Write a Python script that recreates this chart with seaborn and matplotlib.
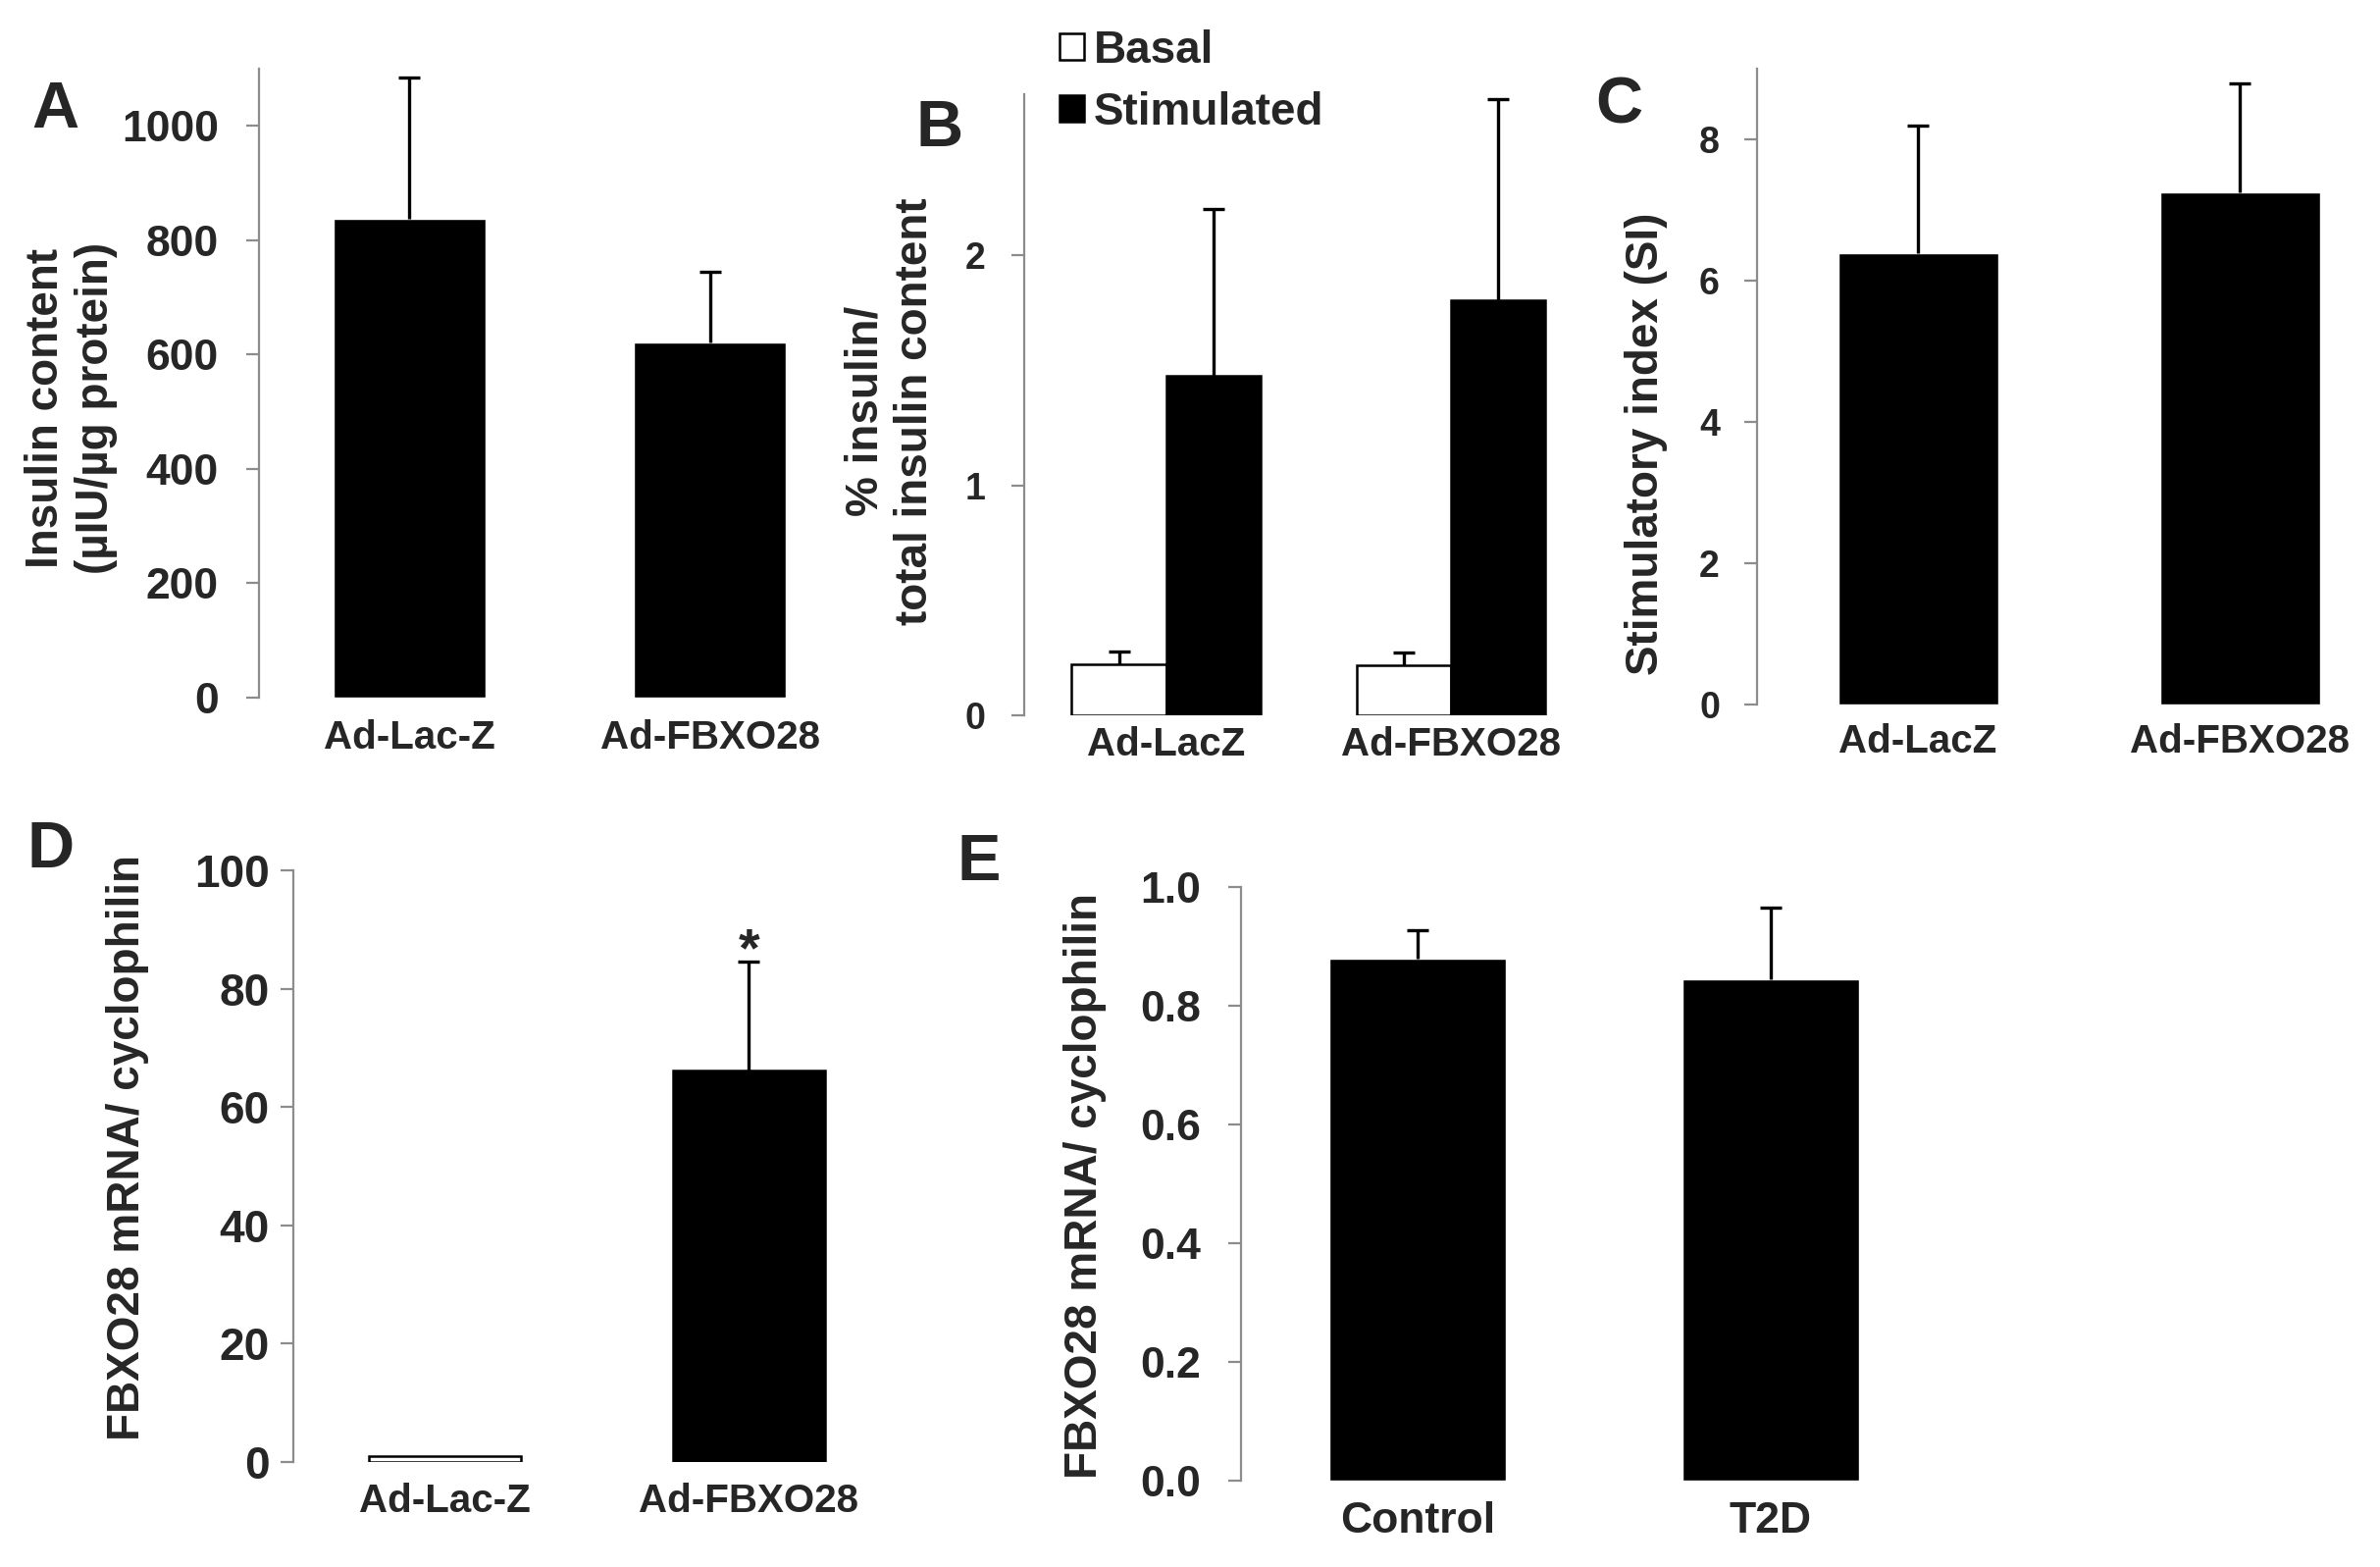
import numpy as np
import pandas as pd
import matplotlib
matplotlib.use("Agg")
import matplotlib.pyplot as plt
from matplotlib.patches import Patch
import seaborn as sns

sns.set_style("white")
plt.rcParams["font.family"] = ["Liberation Sans", "DejaVu Sans"]
plt.rcParams["font.weight"] = "bold"

# panel A - insulin content
a_groups = ["Ad-Lac-Z", "Ad-FBXO28"]
a_mean = [838, 622]
a_sem = [246, 123]

# panel B - secretion, basal vs stimulated
b_groups = ["Ad-LacZ", "Ad-FBXO28"]
b_basal = [0.223, 0.218]
b_basal_sem = [0.053, 0.053]
b_stim = [1.476, 1.803]
b_stim_sem = [0.724, 0.877]

# panel C - stimulatory index
c_groups = ["Ad-LacZ", "Ad-FBXO28"]
c_mean = [6.39, 7.25]
c_sem = [1.80, 1.54]

# panel D - FBXO28 mRNA after overexpression
d_groups = ["Ad-Lac-Z", "Ad-FBXO28"]
d_mean = [1.0, 66.1]
d_sem = [0.0, 18.4]

# panel E - FBXO28 mRNA control vs T2D
e_groups = ["Control", "T2D"]
e_mean = [0.880, 0.845]
e_sem = [0.048, 0.121]

SPINE = "#8c8c8c"


def style_axis(ax, ylim, yticks, ytick_size, ypad, xtick_size, xpad):
    sns.despine(ax=ax, bottom=True)
    ax.spines["left"].set_color(SPINE)
    ax.spines["left"].set_linewidth(1.6)
    ax.set_ylim(*ylim)
    ax.set_xlim(-0.5, 1.5)
    ax.set_yticks(yticks)
    ax.tick_params(axis="y", direction="out", length=9.5, width=1.6,
                   color=SPINE, labelsize=ytick_size, pad=ypad, left=True)
    ax.tick_params(axis="x", length=0, labelsize=xtick_size, pad=xpad)
    ax.set_xlabel("")
    for lab in ax.get_xticklabels() + ax.get_yticklabels():
        lab.set_fontweight("bold")


def upper_error(ax, x, y, s):
    # one-sided (upper) error bar, no cap at the bar top
    _, caps, _ = ax.errorbar(x, y, yerr=[[0], [s]], fmt="none", ecolor="black",
                             elinewidth=2.4, capsize=8, capthick=2.4, zorder=1)
    caps[0].set_visible(False)


def add_errors(ax, container, sems):
    for rect, s in zip(container.patches, sems):
        if s <= 0:
            continue
        upper_error(ax, rect.get_x() + rect.get_width() / 2, rect.get_height(), s)


fig = plt.figure(figsize=(24.26, 15.97), dpi=100)

# ---- A
axA = fig.add_axes([0.1088, 0.5548, 0.2527, 0.4014])
dfA = pd.DataFrame({"group": a_groups, "value": a_mean})
sns.barplot(data=dfA, x="group", y="value", color="black", saturation=1,
            width=0.505, errorbar=None, ax=axA)
add_errors(axA, axA.containers[0], a_sem)
style_axis(axA, (0, 1100), range(0, 1001, 200), 32, 20, 29, 16)
axA.set_ylabel("Insulin content\n(µIU/µg protein)", fontsize=33,
               fontweight="bold", linespacing=1.2)
axA.yaxis.set_label_coords(-0.235, 0.46)

# ---- B
axB = fig.add_axes([0.4303, 0.5435, 0.2391, 0.3964])
dfB = pd.DataFrame({
    "group": b_groups * 2,
    "cond": ["Basal"] * 2 + ["Stimulated"] * 2,
    "value": b_basal + b_stim,
})
sns.barplot(data=dfB, x="group", y="value", hue="cond",
            palette={"Basal": "white", "Stimulated": "black"}, saturation=1,
            edgecolor="black", linewidth=1.8, width=0.665, errorbar=None,
            legend=False, ax=axB)
add_errors(axB, axB.containers[0], b_basal_sem)
add_errors(axB, axB.containers[1], b_stim_sem)
style_axis(axB, (0, 2.7), [0, 1, 2], 27, 19, 29, 8)
axB.set_ylabel("% insulin/\ntotal insulin content", fontsize=33,
               fontweight="bold", linespacing=1.2)
axB.yaxis.set_label_coords(-0.153, 0.49)
handles = [Patch(facecolor="white", edgecolor="black", linewidth=1.8),
           Patch(facecolor="black", edgecolor="black", linewidth=1.8)]
fig.legend(handles, ["Basal", "Stimulated"], loc="upper left",
           bbox_to_anchor=(0.445, 0.9815), frameon=False, borderpad=0,
           borderaxespad=0, handlelength=0.55, handleheight=0.55,
           handletextpad=0.22, labelspacing=0.42,
           prop={"size": 33, "weight": "bold"})

# ---- C
axC = fig.add_axes([0.7383, 0.5504, 0.2704, 0.4058])
dfC = pd.DataFrame({"group": c_groups, "value": c_mean})
sns.barplot(data=dfC, x="group", y="value", color="black", saturation=1,
            width=0.497, errorbar=None, ax=axC)
add_errors(axC, axC.containers[0], c_sem)
style_axis(axC, (0, 9), [0, 2, 4, 6, 8], 27, 18, 29, 14)
axC.set_ylabel("Stimulatory index (SI)", fontsize=33, fontweight="bold")
axC.yaxis.set_label_coords(-0.139, 0.41)

# ---- D
axD = fig.add_axes([0.1232, 0.0670, 0.2552, 0.3776])
dfD = pd.DataFrame({"group": d_groups, "value": d_mean})
sns.barplot(data=dfD, x="group", y="value", hue="group",
            palette={"Ad-Lac-Z": "white", "Ad-FBXO28": "black"}, saturation=1,
            edgecolor="black", linewidth=1.8, width=0.50, errorbar=None,
            legend=False, ax=axD)
patches_D = sorted(axD.patches, key=lambda p: p.get_x())
for rect, s in zip(patches_D, d_sem):
    if s > 0:
        xc = rect.get_x() + rect.get_width() / 2
        upper_error(axD, xc, rect.get_height(), s)
        axD.annotate("*", (xc, rect.get_height() + s), xytext=(0, -3),
                     textcoords="offset points", ha="center", va="baseline",
                     fontsize=40, fontweight="bold")
style_axis(axD, (0, 100), range(0, 101, 20), 33, 8, 29, 15)
axD.set_ylabel("FBXO28 mRNA/ cyclophilin", fontsize=33, fontweight="bold")
axD.yaxis.set_label_coords(-0.237, 0.531)

# ---- E
axE = fig.add_axes([0.5214, 0.0551, 0.2968, 0.3788])
dfE = pd.DataFrame({"group": e_groups, "value": e_mean})
sns.barplot(data=dfE, x="group", y="value", color="black", saturation=1,
            width=0.50, errorbar=None, ax=axE)
add_errors(axE, axE.containers[0], e_sem)
style_axis(axE, (0, 1.0), np.arange(0, 1.01, 0.2), 32, 20, 32, 15)
axE.yaxis.set_major_formatter(matplotlib.ticker.FormatStrFormatter("%.1f"))
axE.set_ylabel("FBXO28 mRNA/ cyclophilin", fontsize=33, fontweight="bold")
axE.yaxis.set_label_coords(-0.19, 0.497)

# panel letters
for letter, x, y in [("A", 32, 130), ("B", 934, 149), ("C", 1626, 126),
                     ("D", 27, 884), ("E", 975, 897)]:
    fig.text(x / 2426, 1 - y / 1597, letter, fontsize=48, fontweight="bold",
             ha="left", va="baseline")

fig.savefig("out.png", dpi=100)
